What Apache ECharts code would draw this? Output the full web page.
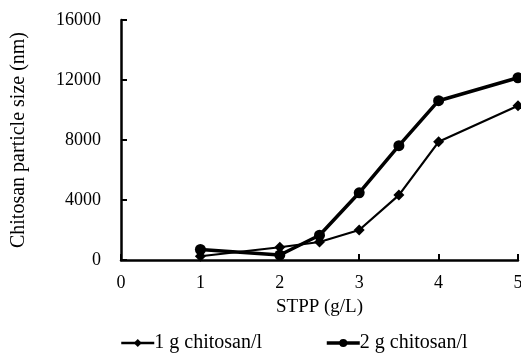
<!DOCTYPE html>
<html>
<head>
<meta charset="utf-8">
<script src="https://cdn.jsdelivr.net/npm/echarts@6/dist/echarts.min.js"></script>
<style>
  html, body { margin: 0; padding: 0; background: #fff; }
  #chart { width: 521px; height: 360px; }
</style>
</head>
<body>
<div id="chart"></div>
<script>
// STPP concentrations (g/L)
const stpp = [1, 2, 2.5, 3, 3.5, 4, 5];
// particle size (nm)
const chitosan1 = [250, 850, 1200, 2000, 4330, 7880, 10280];
const chitosan2 = [700, 330, 1650, 4480, 7620, 10620, 12150];
const seriesNames = ['1 g chitosan/l', '2 g chitosan/l'];

const font = 'Liberation Serif, Times New Roman, serif';
const chart = echarts.init(document.getElementById('chart'));

chart.setOption({
  animation: false,
  backgroundColor: '#fff',
  textStyle: { fontFamily: font, color: '#000' },
  grid: { left: 121, right: 3, top: 20, bottom: 100, outerBoundsMode: 'none', containLabel: false },
  legend: {
    bottom: 2,
    left: 115,
    itemGap: 63,
    itemWidth: 33,
    itemHeight: 10,
    textStyle: { fontFamily: font, fontSize: 20, color: '#000', padding: [0, 0, 0, -5] },
    data: [
      { name: seriesNames[0], lineStyle: { width: 2.5 } },
      { name: seriesNames[1], lineStyle: { width: 3.5 } }
    ]
  },
  xAxis: {
    type: 'value',
    min: 0,
    max: 5,
    interval: 1,
    name: 'STPP (g/L)',
    nameLocation: 'middle',
    nameGap: 38,
    nameTextStyle: { fontFamily: font, fontSize: 19, color: '#000' },
    axisLine: { lineStyle: { color: '#000', width: 2.5 } },
    axisTick: { inside: true, length: 6, lineStyle: { color: '#000', width: 2 } },
    axisLabel: { fontFamily: font, fontSize: 18, color: '#000', margin: 14 },
    splitLine: { show: false }
  },
  yAxis: {
    type: 'value',
    min: 0,
    max: 16000,
    interval: 4000,
    name: 'Chitosan particle size (nm)',
    nameLocation: 'middle',
    nameGap: 92,
    nameTextStyle: { fontFamily: font, fontSize: 20, color: '#000' },
    axisLine: { lineStyle: { color: '#000', width: 2.5 } },
    axisTick: { inside: true, length: 6, lineStyle: { color: '#000', width: 2 } },
    axisLabel: { fontFamily: font, fontSize: 18, color: '#000', margin: 20, formatter: (v) => String(v) },
    splitLine: { show: false }
  },
  series: [
    {
      name: seriesNames[0],
      type: 'line',
      data: stpp.map((x, i) => [x, chitosan1[i]]),
      symbol: 'diamond',
      symbolSize: 11,
      lineStyle: { color: '#000', width: 2.2 },
      itemStyle: { color: '#000' }
    },
    {
      name: seriesNames[1],
      type: 'line',
      data: stpp.map((x, i) => [x, chitosan2[i]]),
      symbol: 'circle',
      symbolSize: 11,
      lineStyle: { color: '#000', width: 3.5 },
      itemStyle: { color: '#000' }
    }
  ]
});
</script>
</body>
</html>
